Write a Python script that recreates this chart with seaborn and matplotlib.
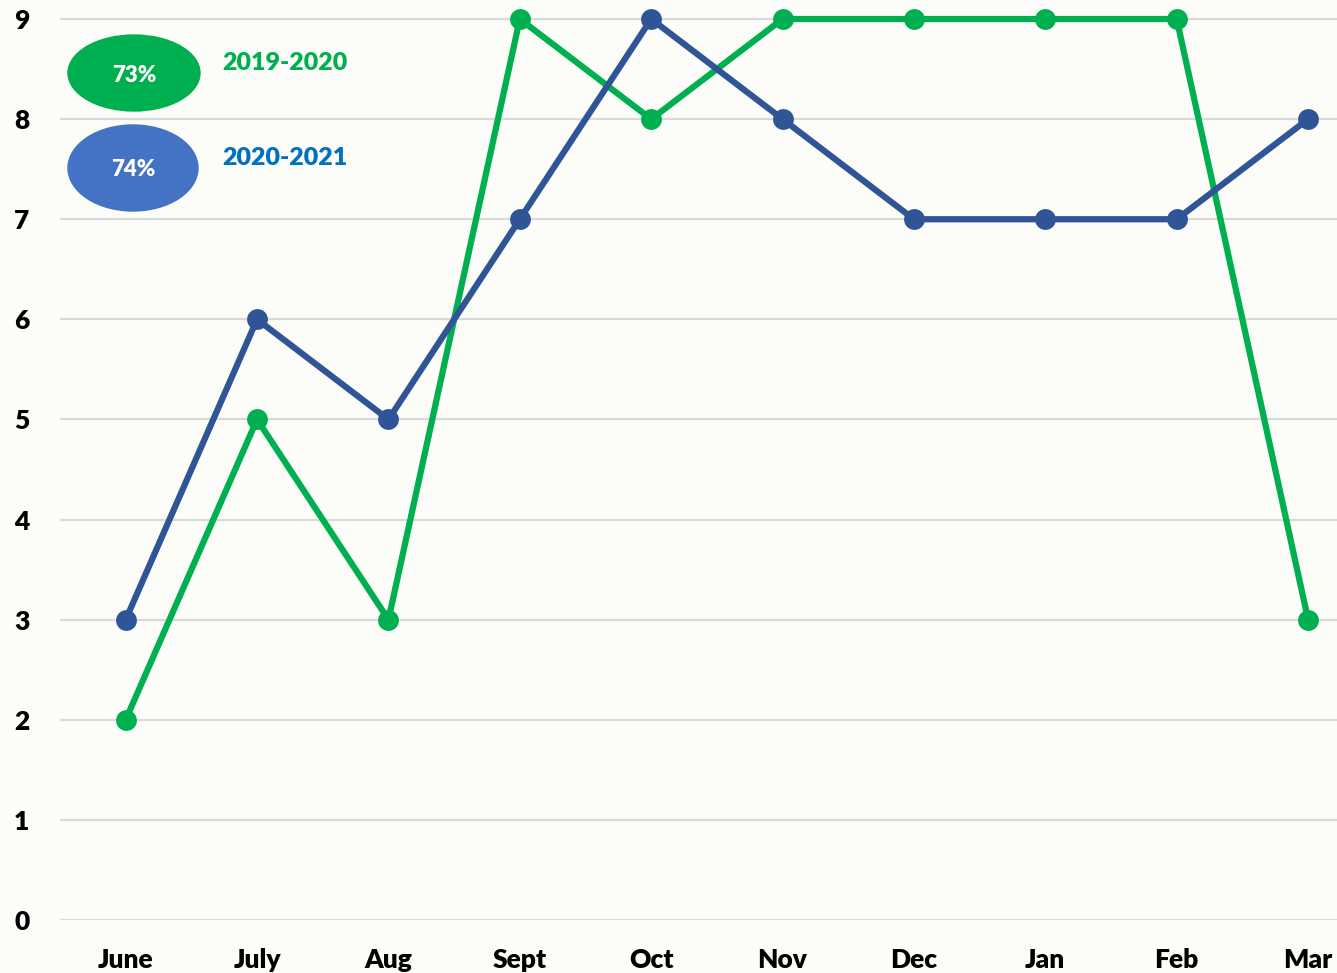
import pandas as pd
import matplotlib
matplotlib.use('Agg')
import matplotlib.pyplot as plt
from matplotlib.patches import Ellipse
import seaborn as sns

months = ['June', 'July', 'Aug', 'Sept', 'Oct', 'Nov', 'Dec', 'Jan', 'Feb', 'Mar']
y2019 = [2, 5, 3, 9, 8, 9, 9, 9, 9, 3]
y2020 = [3, 6, 5, 7, 9, 8, 7, 7, 7, 8]
seasons = ['2019-2020', '2020-2021']
pcts = ['73%', '74%']

df = pd.DataFrame({
    'x': list(range(len(months))) * 2,
    'value': y2019 + y2020,
    'season': [seasons[0]] * len(months) + [seasons[1]] * len(months),
})

bg = '#FCFDF8'
green = '#00B050'
blue = '#2F5597'

sns.set_theme(style='white')
plt.rcParams['font.family'] = ['Lato', 'DejaVu Sans']

fig = plt.figure(figsize=(13.37, 9.73), dpi=100, facecolor=bg)
ax = fig.add_axes([60 / 1337, 53 / 973, 1 - 60 / 1337, 920 / 973])
ax.set_facecolor(bg)

for y in range(10):
    ax.axhline(y, color='#D9D9D9', lw=1.6, zorder=0)

sns.lineplot(data=df, x='x', y='value', hue='season', hue_order=seasons,
             palette=[green, blue], marker='o', markersize=15,
             markeredgewidth=0, linewidth=4.5, legend=False, ax=ax,
             clip_on=False)

ax.set_xlim(-0.5, 9.22)
ax.set_ylim(0, 9.19)
ax.set_xticks(range(len(months)))
ax.set_xticklabels(months, fontweight='heavy')
ax.set_yticks(range(10))
ax.set_yticklabels([str(v) for v in range(10)], fontweight='heavy')
ax.set_xlabel('')
ax.set_ylabel('')
for s in ax.spines.values():
    s.set_visible(False)
ax.tick_params(axis='both', length=0, labelsize=19, labelcolor='black')
ax.tick_params(axis='y', pad=22)
ax.tick_params(axis='x', pad=20)

# legend ellipses
W, H = 1337, 973
ell = [((134, 73), 132, 76, green), ((133, 168), 130, 86, '#4472C4')]
txt_col = [green, '#0070C0']
for i, ((cx, cy), w, h, c) in enumerate(ell):
    fig.patches.append(Ellipse((cx / W, 1 - cy / H), w / W, h / H, color=c,
                               transform=fig.transFigure, zorder=5))
    fig.text(cx / W, 1 - (cy + 2) / H, pcts[i], color='white', fontsize=16,
             fontweight='heavy', ha='center', va='center', zorder=6)
    fig.text(222 / W, 1 - (cy - 10) / H, seasons[i], color=txt_col[i],
             fontsize=18, fontweight='heavy', ha='left', va='center', zorder=6)

fig.savefig('out.png', dpi=100, facecolor=bg)
